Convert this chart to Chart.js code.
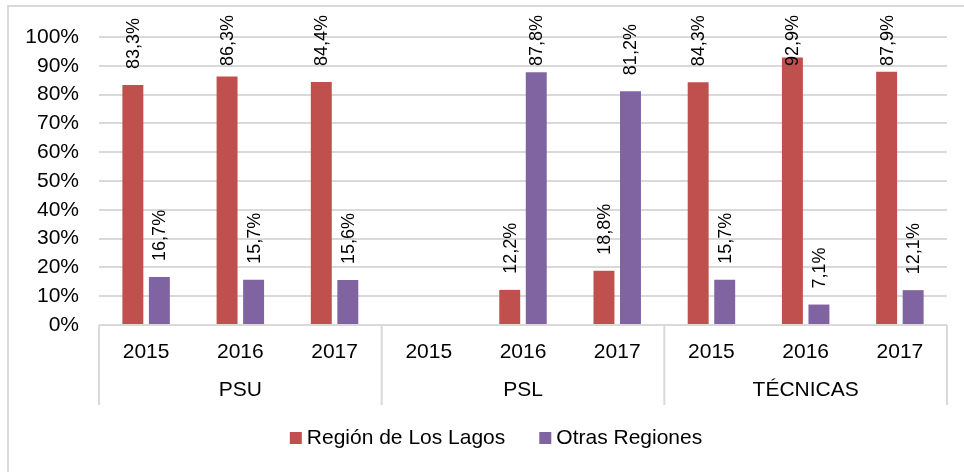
<!DOCTYPE html>
<html lang="es">
  <head>
    <meta charset="UTF-8" />
    <title>Región de Los Lagos vs Otras Regiones</title>
    <script src="https://cdn.jsdelivr.net/npm/chart.js@4"></script>
    <style>
      html, body {
        margin: 0;
        padding: 0;
        background: #fff;
      }
      #chartContainer {
        width: 964px;
        height: 472px;
        position: relative;
      }
    </style>
  </head>
  <body>
    <div id="chartContainer">
      <canvas id="barChart"></canvas>
    </div>

    <script>
      const years = ["2015", "2016", "2017", "2015", "2016", "2017", "2015", "2016", "2017"];
      const groups = ["PSU", "PSL", "TÉCNICAS"];
      const losLagos = [83.3, 86.3, 84.4, null, 12.2, 18.8, 84.3, 92.9, 87.9];
      const otrasRegiones = [16.7, 15.7, 15.6, null, 87.8, 81.2, 15.7, 7.1, 12.1];
      const yTicks = [0, 10, 20, 30, 40, 50, 60, 70, 80, 90, 100];

      const FONT = "'Liberation Sans', Arial, sans-serif";
      const GRID = "#d9d9d9";

      // value labels, rotated, above each bar (clamped to the top like Excel does)
      const barLabels = {
        id: "barLabels",
        afterDatasetsDraw(chart) {
          const ctx = chart.ctx;
          ctx.save();
          ctx.font = "18px " + FONT;
          ctx.fillStyle = "#000";
          ctx.textAlign = "left";
          ctx.textBaseline = "middle";
          chart.data.datasets.forEach((ds, i) => {
            chart.getDatasetMeta(i).data.forEach((bar, j) => {
              const v = ds.data[j];
              if (v === null) return;
              const txt = v.toFixed(1).replace(".", ",") + "%";
              const w = ctx.measureText(txt).width;
              let y = bar.y - 16;
              if (y - w < 15) y = 15 + w;
              ctx.save();
              ctx.translate(bar.x + 1, y);
              ctx.rotate(-Math.PI / 2);
              ctx.fillText(txt, 0, 0);
              ctx.restore();
            });
          });
          ctx.restore();
        },
      };

      // second level of the category axis, frame and an Excel-like legend
      const groupAxis = {
        id: "groupAxis",
        afterDraw(chart) {
          const ctx = chart.ctx;
          const x = chart.scales.x;
          const area = chart.chartArea;
          const bottom = area.bottom + 80;
          ctx.save();
          ctx.strokeStyle = GRID;
          ctx.lineWidth = 2;
          ctx.beginPath();
          ctx.moveTo(area.left, area.bottom);
          ctx.lineTo(area.right, area.bottom);
          const edges = [area.left];
          for (let g = 1; g < groups.length; g++) {
            edges.push((x.getPixelForValue(g * 3 - 1) + x.getPixelForValue(g * 3)) / 2);
          }
          edges.push(area.right);
          edges.forEach((e) => {
            ctx.moveTo(e, area.bottom);
            ctx.lineTo(e, bottom);
          });
          // chart frame (left and top edges)
          ctx.moveTo(8, 472);
          ctx.lineTo(8, 6);
          ctx.lineTo(964, 6);
          ctx.stroke();

          ctx.font = "21px " + FONT;
          ctx.fillStyle = "#000";
          ctx.textAlign = "center";
          ctx.textBaseline = "middle";
          groups.forEach((g, i) => {
            ctx.fillText(g, (edges[i] + edges[i + 1]) / 2, area.bottom + 65);
          });

          // legend
          const items = chart.data.datasets;
          const widths = items.map((d) => ctx.measureText(d.label).width);
          const total = widths.reduce((a, b) => a + b, 0) + items.length * 17 + (items.length - 1) * 34;
          let lx = 496 - total / 2;
          const base = area.bottom + 119;
          ctx.textAlign = "left";
          ctx.textBaseline = "alphabetic";
          items.forEach((d, i) => {
            ctx.fillStyle = d.backgroundColor;
            ctx.fillRect(lx, base - 12, 12, 12);
            ctx.fillStyle = "#000";
            ctx.fillText(d.label, lx + 17, base);
            lx += 17 + widths[i] + 34;
          });
          ctx.restore();
        },
      };

      function createChart() {
        const ctx = document.getElementById("barChart").getContext("2d");
        new Chart(ctx, {
          type: "bar",
          data: {
            labels: years,
            datasets: [
              {
                label: "Región de Los Lagos",
                data: losLagos,
                backgroundColor: "#C0504D",
              },
              {
                label: "Otras Regiones",
                data: otrasRegiones,
                backgroundColor: "#8064A2",
              },
            ],
          },
          options: {
            responsive: true,
            maintainAspectRatio: false,
            animation: false,
            layout: {
              padding: { top: 37, right: 17, left: 0, bottom: 63 },
            },
            datasets: {
              bar: {
                categoryPercentage: 0.563,
                barPercentage: 0.79,
              },
            },
            scales: {
              x: {
                grid: { display: false },
                border: { display: false },
                ticks: {
                  color: "#000",
                  font: { family: FONT, size: 21 },
                  padding: 7,
                  maxRotation: 0,
                },
                afterFit(scale) {
                  scale.height = 84;
                },
              },
              y: {
                min: 0,
                max: 100,
                afterBuildTicks(scale) {
                  scale.ticks = yTicks.map((v) => ({ value: v }));
                },
                grid: { color: GRID, lineWidth: 2, drawTicks: false },
                border: { display: false },
                ticks: {
                  color: "#000",
                  font: { family: FONT, size: 21 },
                  padding: 20,
                  callback: (v) => v + "%",
                },
                afterFit(scale) {
                  scale.width = 99;
                },
              },
            },
            plugins: {
              legend: { display: false },
              tooltip: { enabled: false },
            },
          },
          plugins: [barLabels, groupAxis],
        });
      }

      createChart();
    </script>
  </body>
</html>
